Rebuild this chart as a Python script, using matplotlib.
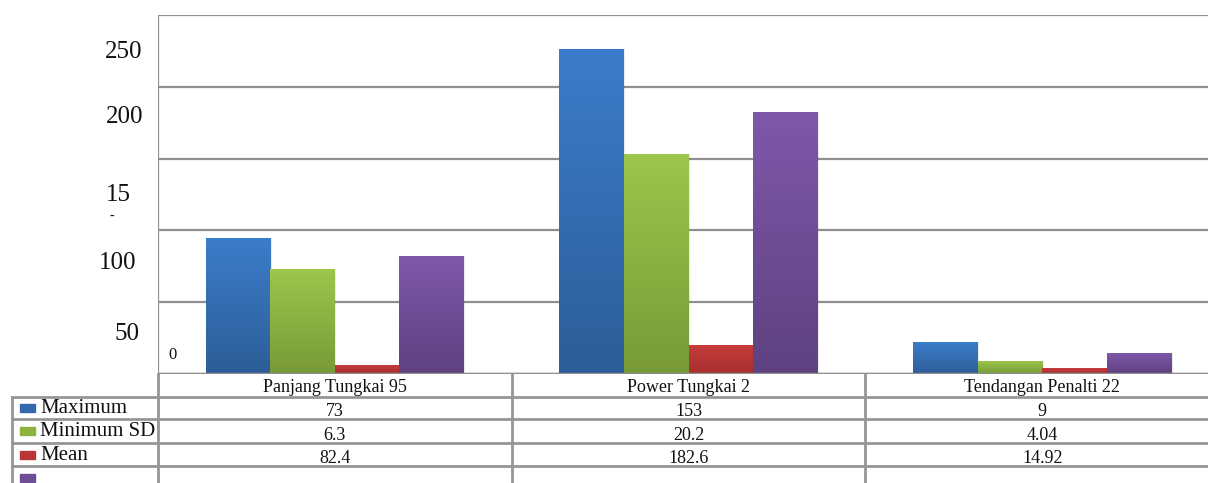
import numpy as np
import matplotlib
matplotlib.use("Agg")
import matplotlib.pyplot as plt
from matplotlib.colors import LinearSegmentedColormap
from matplotlib.transforms import blended_transform_factory

# ---- data ----
categories = ["Panjang Tungkai 95", "Power Tungkai 2", "Tendangan Penalti 22"]
series_names = ["Maximum", "Minimum SD", "Mean", ""]
s_blue = [95, 226, 22]
s_green = [73, 153, 9]
s_red = [6.3, 20.2, 4.04]
s_purple = [82.4, 182.6, 14.92]
table_rows = [
    ["73", "153", "9"],
    ["6.3", "20.2", "4.04"],
    ["82.4", "182.6", "14.92"],
    ["", "", ""],
]
ytick_text = ["250", "200", "15", "100", "50"]
ytick_pos = [224, 179, 124.5, 77.5, 28]
ytick_right = [142, 143, 131, 136, 140]

series = [s_blue, s_green, s_red, s_purple]
colors_top = ["#3b7dca", "#9dc64b", "#c53d3b", "#7f58aa"]
colors_bot = ["#2d5d98", "#779a38", "#a62f2e", "#5e4280"]
legend_colors = ["#3567b0", "#8cb33f", "#bb3534", "#6f4e98"]

W, H = 1208, 483
fig = plt.figure(figsize=(W / 100, H / 100), dpi=100)
serif = "Liberation Serif"

left, right = 158, 1219
top, bottom = 15, 374
ax = fig.add_axes([left / W, (H - bottom) / H, (right - left) / W, (bottom - top) / H])
ax.set_xlim(-0.5, 2.5)
ax.set_ylim(0, 250)
for s in ax.spines.values():
    s.set_visible(False)
ax.set_xticks([])
ax.set_yticks([])
for g in range(0, 251, 50):
    ax.axhline(g, color="#8f8f8f", lw=1.6, zorder=1)
ax.axvline(-0.5, color="#8f8f8f", lw=1.6, zorder=1)
ax.axhline(0, color="#8f8f8f", lw=2.5, zorder=5)

bw = 0.1825
x = np.arange(len(categories))
grad = np.linspace(0, 1, 256).reshape(-1, 1)
for i, (vals, ct, cb) in enumerate(zip(series, colors_top, colors_bot)):
    cmap = LinearSegmentedColormap.from_list(f"c{i}", [cb, ct])
    offs = (i - 1.5) * bw
    bars = ax.bar(x + offs, vals, bw, color=ct, zorder=3, linewidth=0)
    for b, v in zip(bars, vals):
        x0 = b.get_x()
        # soft shadow
        ax.bar(x0 + bw / 2 + 0.004, v, bw, bottom=0, color="#000000", alpha=0.08, zorder=2, linewidth=0)
        im = ax.imshow(grad, extent=[x0, x0 + bw, 0, v], origin="lower", aspect="auto",
                       cmap=cmap, zorder=4, interpolation="bilinear")
        im.set_clip_path(b)
ax.set_xlim(-0.5, 2.5)
ax.set_ylim(0, 250)

# y tick texts (as shown in reference)
tr_y = blended_transform_factory(fig.transFigure, ax.transData)
for t, p, xr in zip(ytick_text, ytick_pos, ytick_right):
    ax.text(xr / W, p, t, transform=tr_y, ha="right", va="center", fontsize=18,
            family=serif, color="#111111")
ax.text(114 / W, 110, "-", transform=tr_y, ha="right", va="center", fontsize=10,
        family=serif, color="#111111")
ax.text(-0.47, 13, "0", ha="left", va="center", fontsize=12, family=serif, color="#111111")

# ---- data table ----
row_edges = [374, 397, 419, 443, 466, 490]
lc = "#969696"
tr_x = blended_transform_factory(ax.transData, fig.transFigure)


def fy(py):
    return (H - py) / H


for py in row_edges[1:-1]:
    fig.add_artist(plt.Line2D([12 / W, 1], [fy(py), fy(py)], color=lc, lw=2, transform=fig.transFigure))
fig.add_artist(plt.Line2D([12 / W, 12 / W], [fy(397), 0], color=lc, lw=2, transform=fig.transFigure))
for b in [-0.5, 0.5, 1.5]:
    ax.add_artist(plt.Line2D([b, b], [fy(374), 0], color=lc, lw=2, transform=tr_x, clip_on=False))

for j, c in enumerate(categories):
    ax.text(j, fy(388), c, transform=tr_x, ha="center", va="center", fontsize=13,
            family=serif, color="#111111")
for r, row in enumerate(table_rows):
    mid = (row_edges[r + 1] + row_edges[r + 2]) / 2
    yc = fy(mid + 4)
    for j, v in enumerate(row):
        ax.text(j, yc, v, transform=tr_x, ha="center", va="center", fontsize=13,
                family=serif, color="#111111")
    # legend key + label
    fig.add_artist(plt.Rectangle((20 / W, fy(mid + 4)), 15 / W, 8 / H, color=legend_colors[r],
                                 transform=fig.transFigure))
    fig.text(40 / W, fy(mid + 5), series_names[r], ha="left", va="baseline", fontsize=15,
             family=serif, color="#111111")

fig.savefig("out.png", dpi=100)
